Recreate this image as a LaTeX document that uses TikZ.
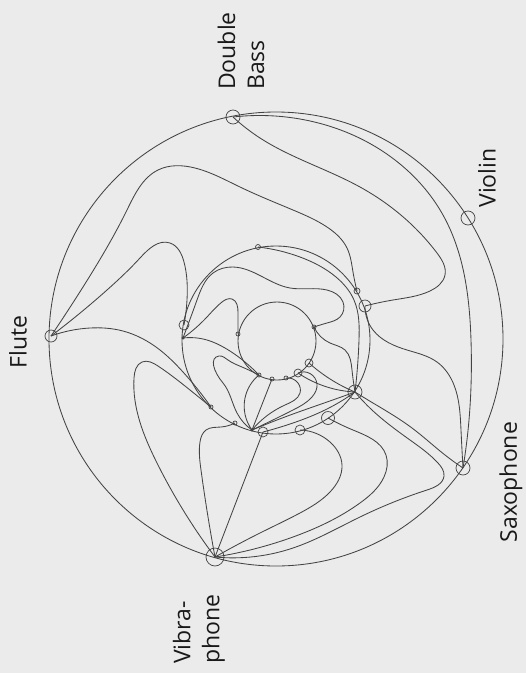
\documentclass[tikz,border=0pt]{standalone}
\usepackage{fontspec}
\setmainfont{Open Sans}
\usetikzlibrary{hobby}
\definecolor{bg}{RGB}{235,235,235}
\definecolor{lc}{RGB}{68,68,68}
\definecolor{tc}{RGB}{25,25,25}
\newcommand{\labfont}{\fontsize{23}{29}\selectfont}
\begin{document}
\begin{tikzpicture}[x=1pt,y=-1pt,
  ringnode/.style={circle,draw=lc,line width=0.7pt,inner sep=0pt,minimum size=#1},
  dotnode/.style={circle,draw=lc,fill=lc,line width=0.4pt,inner sep=0pt,minimum size=#1},
  edge/.style={draw=lc,line width=0.85pt,use Hobby shortcut},
  lab/.style={font=\labfont,text=tc,inner sep=0pt}]
\fill[bg] (0,0) rectangle (526,673);
\useasboundingbox (0,0) rectangle (526,673);

% rings
\draw[edge] (276,339) circle[radius=227];
\draw[edge] (276,340) circle[radius=94];
\draw[edge] (277,341) circle[radius=39];

% outer nodes
\node[ringnode=14pt] (DB) at (233,117) {};
\node[ringnode=14pt] (VI) at (468,218) {};
\node[ringnode=14pt] (SA) at (463,468) {};
\node[ringnode=18pt] (VB) at (215,557) {};
\node[ringnode=12pt] (FL) at (51,336) {};

% middle ring nodes
\node[ringnode=10pt] (L) at (184,325) {};
\node[dotnode=2.5pt] (L2) at (183,338) {};
\node[ringnode=5pt] (T) at (258,247) {};
\node[ringnode=6pt] (N1) at (357,291) {};
\node[ringnode=12pt] (M) at (365,306) {};
\node[ringnode=14pt] (S) at (355,392) {};
\node[ringnode=13pt] (P) at (328,418) {};
\node[ringnode=10pt] (Q) at (300,430) {};
\node[ringnode=10pt] (R) at (263,432) {};
\node[dotnode=2.5pt] (H) at (252,430) {};
\node[ringnode=4pt] (D1) at (235,423) {};
\node[ringnode=4pt] (D2) at (211,407) {};

% inner ring nodes
\node[ringnode=4pt] (i1) at (238,334) {};
\node[ringnode=4pt] (i2) at (314,327) {};
\node[ringnode=8pt] (i3) at (309,363) {};
\node[ringnode=8pt] (i4) at (298,373) {};
\node[ringnode=4pt] (i5) at (286,378) {};
\node[ringnode=4pt] (i6) at (272,379) {};
\node[ringnode=4pt] (i7) at (259,375) {};

% double bass edges
\draw[edge] (DB.center) .. (300,119) .. (395,160) .. (443,215) .. (471,340) .. (469,420) .. (SA.center);
\draw[edge] (DB.center) .. (260,138) .. (360,187) .. (437,253) .. (445,275) .. (430,291) .. (393,300) .. (M.center);

% flute edges
\draw[edge] (FL.center) .. (83,287) .. (127,210) .. (158,170) .. (195,168) .. (240,187) .. (293,210) .. (327,227) .. (347,248) .. (353,272) .. (N1.center);
\draw[edge] (FL.center) .. (107,290) .. (140,258) .. (170,243) .. (184,262) .. (187,300) .. (L.center);
\draw[edge] (FL.center) .. (90,328) .. (123,331) .. (160,350) .. (183,372) .. (D2.center);

% vibraphone edges
\draw[edge] (VB.center) .. (157,463) .. (134,378) .. (142,362) .. (158,366) .. (190,390) .. (D2.center);
\draw[edge] (VB.center) .. (201,470) .. (200,442) .. (206,430) .. (221,427) .. (D1.center);
\draw[edge] (VB.center) -- (R.center);
\draw[edge] (VB.center) .. (262,532) .. (300,513) .. (330,492) .. (342,465) .. (330,442) .. (Q.center);
\draw[edge] (VB.center) .. (293,537) .. (360,503) .. (384,477) .. (386,455) .. (353,430) .. (P.center);
\draw[edge] (VB.center) .. (293,548) .. (360,517) .. (427,490) .. (444,476) .. (438,463) .. (410,440) .. (372,410) .. (S.center);

% saxophone edges
\draw[edge] (S.center) .. (368,400) .. (412,428) .. (445,455) .. (SA.center);
\draw[edge] (M.center) .. (373,330) .. (407,350) .. (437,362) .. (454,385) .. (461,430) .. (SA.center);

% hub edges
\draw[edge] (H.center) .. (237,413) .. (223,383) .. (219,356) .. (228,360) .. (242,367) .. (i7.center);
\draw[edge] (H.center) .. (245,398) .. (i7.center);
\draw[edge] (H.center) -- (i6.center);
\draw[edge] (H.center) .. (285,405) .. (300,393) .. (298,383) .. (i5.center);
\draw[edge] (H.center) .. (293,410) .. (312,397) .. (317,384) .. (i4.center);
\draw[edge] (H.center) .. (293,414) .. (327,402) .. (S.center);
\draw[edge] (R.center) .. (293,423) .. (327,409) .. (S.center);
\draw[edge] (i3.center) .. (327,377) .. (S.center);
\draw[edge] (i4.center) .. (327,387) .. (S.center);
\draw[edge] (i2.center) .. (330,343) .. (345,350) .. (352,370) .. (S.center);
\draw[edge] (T.center) .. (300,257) .. (336,277) .. (354,300) .. (359,340) .. (S.center);

% left hub edges
\draw[edge] (L2.center) .. (207,317) .. (222,302) .. (232,299) .. (238,313) .. (i1.center);
\draw[edge] (L2.center) .. (197,300) .. (213,273) .. (233,267) .. (290,288) .. (327,290) .. (343,302) .. (340,317) .. (327,323) .. (i2.center);
\draw[edge] (L2.center) .. (207,340) .. (225,348) .. (245,362) .. (i7.center);

% labels
\node[lab,rotate=90,anchor=west,align=left] (tDB) at (241,90) {Double\\Bass};
\node[lab,rotate=90] (tVI) at (487,178) {Violin};
\node[lab,rotate=90] (tSA) at (511,482) {Saxophone};
\node[lab,rotate=90,anchor=west,align=left] (tVB) at (199,664) {Vibra-\\phone};
\node[lab,rotate=90] (tFL) at (18,342) {Flute};
\end{tikzpicture}
\end{document}
